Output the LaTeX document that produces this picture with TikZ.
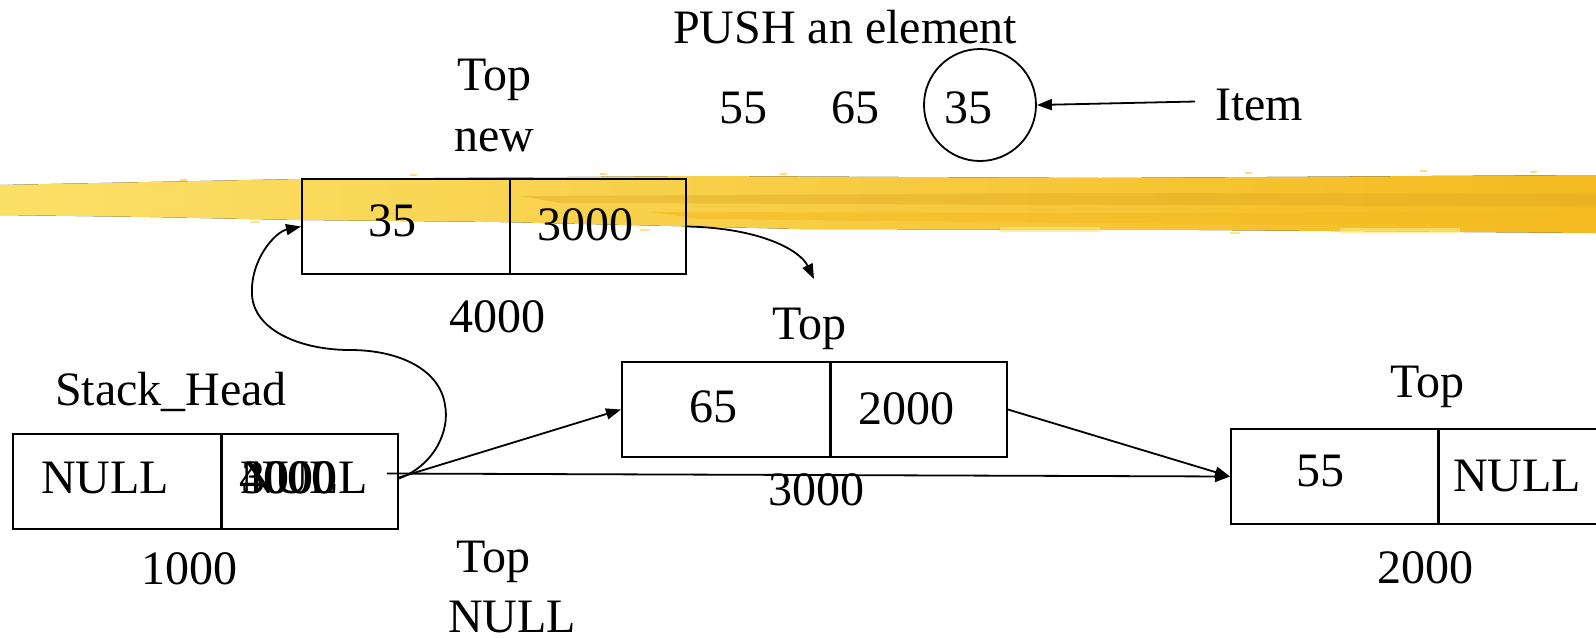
\documentclass[tikz,border=0pt]{standalone}
\usepackage{fontspec}
\setmainfont{Liberation Serif}
\usetikzlibrary{arrows.meta,calc}

\definecolor{brushLight}{RGB}{251,224,104}
\definecolor{brushGold}{RGB}{244,186,32}
\definecolor{brushDark}{RGB}{220,168,34}
\definecolor{brushPale}{RGB}{253,232,130}

\begin{document}
\begin{tikzpicture}[x=1pt,y=-1pt,
  lbl/.style={font=\fontsize{48}{56}\selectfont, inner sep=0pt, anchor=base},
  lbleft/.style={lbl, anchor=base west},
  lcell/.style={draw, line width=2pt, minimum width=208pt, minimum height=95pt, inner sep=0pt, anchor=north west},
  rcell/.style={draw, line width=2pt, minimum width=176pt, minimum height=95pt, inner sep=0pt, anchor=north west},
  link/.style={line width=1.8pt, -{Triangle[length=15pt,width=11pt]}},
]
\useasboundingbox (0,0) rectangle (1596,638);
\clip (0,0) rectangle (1596,638);

% highlighter stroke across the slide
\fill[left color=brushLight, right color=brushGold]
  (0,185) -- (150,182) -- (300,179) -- (700,176) -- (1100,178) -- (1596,175)
  -- (1596,233) -- (1200,230) -- (800,229) -- (500,222) -- (300,220) -- (150,217) -- (0,215) -- cycle;
\fill[brushDark, opacity=0.4] (520,196) -- (1100,193) -- (1596,194) -- (1596,206) -- (1100,205) -- (560,203) -- cycle;
\fill[brushGold, opacity=0.55] (650,212) -- (1200,213) -- (1596,212) -- (1596,225) -- (1200,224) -- (700,219) -- cycle;
\fill[brushPale, opacity=0.7] (1340,228) rectangle (1460,233);
\fill[brushPale, opacity=0.7] (1000,227) rectangle (1100,232);
\foreach \fx/\fy in {180/181, 410/176, 600/175, 780/175, 1245/174, 1420/172, 1530/173}
  \fill[brushGold, opacity=0.5] (\fx,\fy) rectangle ++(7,-2);
\foreach \fx/\fy in {250/223, 640/231, 1230/234}
  \fill[brushLight, opacity=0.8] (\fx,\fy) rectangle ++(10,-2);

% list cells: value | pointer
\node[lcell] (new-val) at (301,178) {};
\node[rcell] (new-ptr) at (509,178) {};
\node[lcell] (n65-val) at (621,361) {};
\node[rcell] (n65-ptr) at (830,361) {};
\node[lcell] (n55-val) at (1230,428) {};
\node[rcell] (n55-ptr) at (1437,428) {};
\node[lcell] (sh-val) at (12,433) {};
\node[rcell] (sh-ptr) at (221,433) {};

% header
\node[lbl] (title) at (845,43) {PUSH an element};
\node[lbl] (top-new) at (494,90) {Top};
\node[lbl] (new-lbl) at (494,151) {new};
\node[lbl] (q55) at (743,123) {55};
\node[lbl] (q65) at (855,123) {65};
\node[circle, draw, line width=1.8pt, minimum size=112pt, inner sep=0pt] (item-circ) at (980,105) {};
\node[lbl] (q35) at (968,123) {35};
\node[lbl] (item) at (1259,120) {Item};

% cell contents and addresses
\node[lbl] (new-val-t) at (392,236) {35};
\node[lbl] (new-ptr-t) at (585,240) {3000};
\node[lbl] (new-addr) at (497,332) {4000};
\node[lbl] (top-mid) at (809,339) {Top};
\node[lbl] (n65-val-t) at (713,422) {65};
\node[lbl] (n65-ptr-t) at (906,424) {2000};
\node[lbl] (n65-addr) at (816,505) {3000};
\node[lbl] (top-right) at (1427,397) {Top};
\node[lbl] (n55-val-t) at (1320,486) {55};
\node[lbl] (n55-ptr-t) at (1517,491) {NULL};
\node[lbl] (n55-addr) at (1425,583) {2000};
\node[lbl] (sh-lbl) at (171,405) {Stack\_Head};
\node[lbl] (sh-val-t) at (105,493) {NULL};
\node[lbleft] (sh-ptr-a) at (240,493) {NULL};
\node[lbleft] (sh-ptr-b) at (239,493) {4000};
\node[lbleft] (sh-ptr-c) at (241,493) {3000};
\node[lbl] (sh-addr) at (189,584) {1000};
\node[lbl] (top-low) at (493,572) {Top};
\node[lbl] (null-low) at (512,632) {NULL};

% connectors
\coordinate (top-mid-tip) at (814,279);
\draw[link] ([xshift=-20pt,yshift=3pt]item.west) -- (item-circ.east);
\draw[link] (new-ptr.east) .. controls (760,228) and (800,250) .. (top-mid-tip);
\draw[link] ([xshift=-12pt,yshift=8pt]sh-ptr.east) -- (n55-val.west);
\draw[link] ([yshift=4pt]sh-ptr.east) -- (n65-val.west);
\draw[link] (n65-ptr.east) -- (n55-val.west);
\draw[link] ([yshift=3pt]sh-ptr.east)
  .. controls (435,465) and (450,430) .. (445,405)
  .. controls (440,370) and (400,350) .. (350,350)
  .. controls (300,350) and (254,330) .. (252,295)
  .. controls (250,260) and (275,232) .. (new-val.west);
\end{tikzpicture}
\end{document}
